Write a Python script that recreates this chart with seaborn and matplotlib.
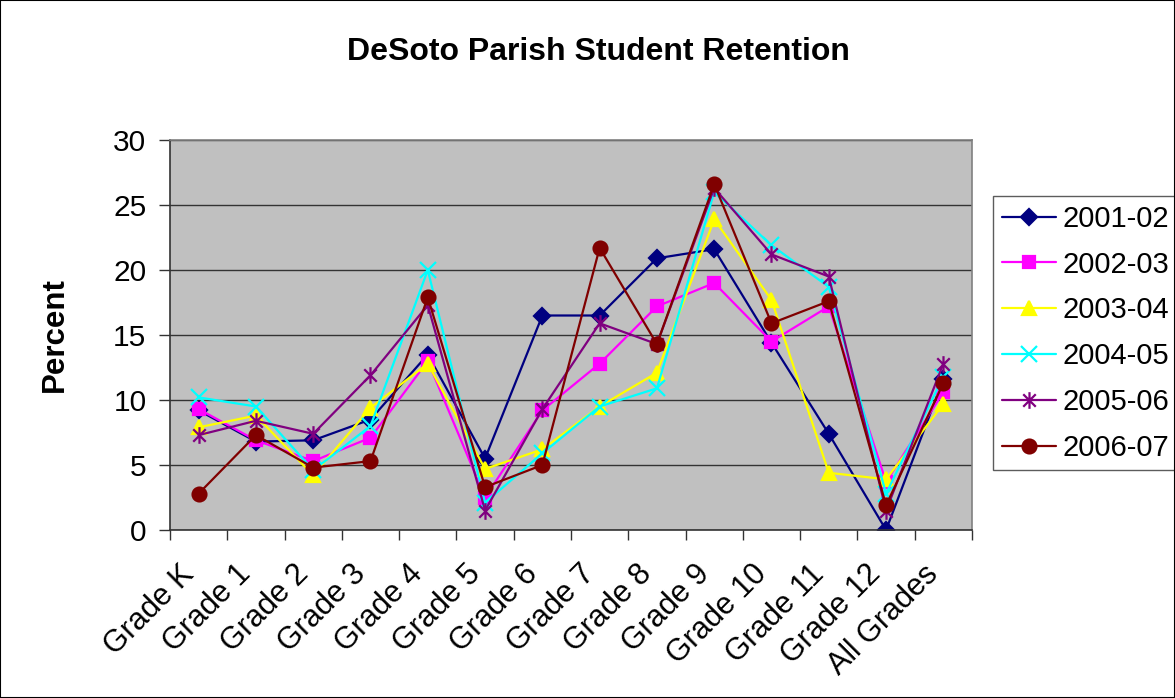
import numpy as np
import pandas as pd
import matplotlib
matplotlib.use("Agg")
import matplotlib.pyplot as plt
from matplotlib.path import Path
from matplotlib.patches import Rectangle
import seaborn as sns

# ==========================================
# DATA
# ==========================================

grades = ["Grade K", "Grade 1", "Grade 2", "Grade 3", "Grade 4", "Grade 5",
          "Grade 6", "Grade 7", "Grade 8", "Grade 9", "Grade 10", "Grade 11",
          "Grade 12", "All Grades"]

y2001_02 = [9.2, 6.8, 6.9, 8.5, 13.5, 5.5, 16.5, 16.5, 20.9, 21.6, 14.4, 7.4, 0.0, 11.6]
y2002_03 = [9.3, 6.9, 5.3, 7.1, 13.0, 2.5, 9.2, 12.8, 17.2, 19.0, 14.5, 17.2, 3.7, 10.6]
y2003_04 = [7.9, 8.8, 4.2, 9.4, 12.8, 4.7, 6.2, 9.5, 12.1, 23.9, 17.7, 4.4, 3.9, 9.7]
y2004_05 = [10.2, 9.5, 4.6, 8.0, 20.0, 2.1, 5.9, 9.5, 10.9, 26.0, 21.9, 18.7, 2.8, 11.8]
y2005_06 = [7.3, 8.4, 7.4, 11.9, 17.3, 1.5, 9.3, 15.9, 14.3, 26.3, 21.2, 19.5, 1.5, 12.8]
y2006_07 = [2.8, 7.3, 4.8, 5.3, 17.9, 3.3, 5.0, 21.7, 14.3, 26.6, 15.9, 17.6, 1.9, 11.3]

series = ["2001-02", "2002-03", "2003-04", "2004-05", "2005-06", "2006-07"]
values = [y2001_02, y2002_03, y2003_04, y2004_05, y2005_06, y2006_07]

colors = ["#000080", "#FF00FF", "#FFFF00", "#00FFFF", "#800080", "#800000"]

# Excel style asterisk marker: x plus a vertical bar
star = Path([(0, -1), (0, 1), (-0.75, -0.75), (0.75, 0.75), (-0.75, 0.75), (0.75, -0.75)],
            [Path.MOVETO, Path.LINETO, Path.MOVETO, Path.LINETO, Path.MOVETO, Path.LINETO])
markers = ["D", "s", "^", "x", star, "o"]
sizes = [8, 9, 10, 11, 12, 10]

# ==========================================
# PLOT
# ==========================================

sns.set_theme(style="white")
plt.rcParams["font.family"] = ["Liberation Sans", "DejaVu Sans"]
plt.rcParams["text.color"] = "black"
plt.rcParams["xtick.color"] = "black"
plt.rcParams["ytick.color"] = "black"
plt.rcParams["axes.labelcolor"] = "black"

fig = plt.figure(figsize=(11.75, 6.98), dpi=100)
ax = fig.add_axes([170 / 1175, 1 - 530 / 698, (972 - 170) / 1175, (530 - 140) / 698])
ax.set_facecolor("#C0C0C0")

for name, vals, c, m, ms in zip(series, values, colors, markers, sizes):
    sns.lineplot(x=grades, y=vals, sort=False, color=c, marker=m, markersize=ms,
                 markeredgecolor=c, markerfacecolor=c, markeredgewidth=1.6,
                 linewidth=1.6, label=name, ax=ax)

ax.set_xlim(-0.5, len(grades) - 0.5)
ax.set_ylim(0, 30)
ax.set_yticks(range(0, 31, 5))
ax.yaxis.grid(True, color="#333333", linewidth=1)
ax.xaxis.grid(False)
ax.set_axisbelow(True)

# rotated category labels (nudged left so the text ends under the category),
# tick marks on the category boundaries
ax.set_xticks(np.arange(len(grades)) - 0.35)
ax.set_xticklabels(grades, rotation=45, ha="right", rotation_mode="anchor", fontsize=22)
ax.set_xticks(np.arange(-0.5, len(grades), 1), minor=True)
ax.tick_params(axis="x", which="major", length=0, pad=21)
ax.tick_params(axis="x", which="minor", length=7, width=1, color="#333333", direction="out", bottom=True)
ax.tick_params(axis="y", length=8, width=1, color="#333333", direction="out", left=True,
               labelsize=21.5, pad=9)

for side in ["left", "bottom"]:
    ax.spines[side].set_color("#333333")
    ax.spines[side].set_linewidth(1.2)
for side in ["top", "right"]:
    ax.spines[side].set_color("#808080")
    ax.spines[side].set_linewidth(1.2)

ax.set_xlabel("")
ax.set_ylabel("Percent", fontsize=22.5, fontweight="bold", va="center")
ax.yaxis.set_label_coords(-0.143, 0.5)

fig.text(598 / 1175, 1 - 52 / 698, "DeSoto Parish Student Retention",
         ha="center", va="center", fontsize=23, fontweight="bold")

leg = ax.legend(loc="upper left", bbox_to_anchor=(993 / 1175, 1 - 196 / 698),
                bbox_transform=fig.transFigure, fontsize=21, frameon=True,
                fancybox=False, edgecolor="#333333", borderpad=0.3,
                labelspacing=0.61, handlelength=1.85, handletextpad=0.25, borderaxespad=0)
leg.get_frame().set_linewidth(1)

# chart outline
fig.patches.append(Rectangle((0, 0), 1, 1, transform=fig.transFigure, fill=False,
                             edgecolor="black", linewidth=1.5))

plt.savefig("out.png", dpi=100)
